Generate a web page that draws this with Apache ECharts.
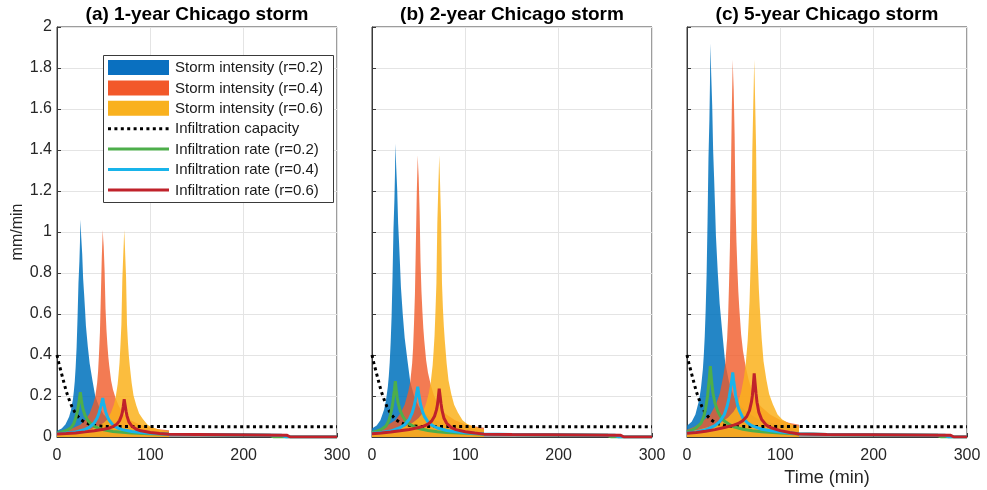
<!DOCTYPE html>
<html><head><meta charset="utf-8">
<script src="https://cdn.jsdelivr.net/npm/echarts@6/dist/echarts.min.js"></script>
<style>html,body{margin:0;padding:0;background:#fff}#c{width:987px;height:490px}</style>
</head><body><div id="c"></div>
<script>
// ---------- text ----------
const panelTitles = ['(a) 1-year Chicago storm', '(b) 2-year Chicago storm', '(c) 5-year Chicago storm'];
const xTickLabels = ['0', '100', '200', '300'];
const yTickLabels = ['0', '0.2', '0.4', '0.6', '0.8', '1', '1.2', '1.4', '1.6', '1.8', '2'];
const legendNames = ['Storm intensity (r=0.2)', 'Storm intensity (r=0.4)', 'Storm intensity (r=0.6)',
  'Infiltration capacity', 'Infiltration rate (r=0.2)', 'Infiltration rate (r=0.4)', 'Infiltration rate (r=0.6)'];

// ---------- storm intensity (mm/min) ----------
const blueT = [0,5,9,13,15,17,18,19,20,21,22,23,24,24.6,25,26,27,28,29,30,31,33,35,38,41,45,50,55,65,75,85,100,120];
const blueA = [0.030,0.041,0.061,0.099,0.132,0.182,0.221,0.270,0.342,0.436,0.580,0.751,0.856,0.949,1.06,0.972,0.894,0.773,0.701,0.624,0.541,0.442,0.359,0.276,0.199,0.149,0.110,0.088,0.066,0.050,0.041,0.033,0.026];
const blueB = [0.041,0.056,0.082,0.134,0.179,0.246,0.298,0.365,0.462,0.589,0.782,1.013,1.155,1.281,1.43,1.311,1.207,1.043,0.946,0.842,0.730,0.596,0.484,0.373,0.268,0.201,0.149,0.119,0.089,0.067,0.056,0.045,0.036];
const blueC = [0.055,0.075,0.11,0.18,0.24,0.33,0.40,0.49,0.62,0.79,1.05,1.36,1.55,1.72,1.92,1.76,1.62,1.40,1.27,1.13,0.98,0.80,0.65,0.50,0.36,0.27,0.20,0.16,0.12,0.09,0.075,0.06,0.048];

const orangeT = [0,8,16,25,31,35,39,41,43,44,45,46,47,48,48.5,49,49.5,50,51,52,53,54,55,56,58,60,63,66,70,74,79,89,99,109,120];
const orangeA = [0.019,0.027,0.041,0.06,0.088,0.115,0.165,0.198,0.264,0.318,0.406,0.511,0.692,0.878,0.944,1.01,0.966,0.933,0.813,0.626,0.522,0.450,0.390,0.346,0.275,0.231,0.187,0.154,0.121,0.099,0.082,0.06,0.047,0.038,0.033];
const orangeB = [0.026,0.037,0.056,0.082,0.12,0.157,0.224,0.269,0.359,0.433,0.553,0.695,0.941,1.195,1.285,1.375,1.315,1.270,1.106,0.852,0.710,0.613,0.530,0.471,0.374,0.314,0.254,0.209,0.164,0.134,0.112,0.082,0.063,0.052,0.045];
const orangeC = [0.035,0.05,0.075,0.11,0.16,0.21,0.30,0.36,0.48,0.58,0.74,0.93,1.26,1.6,1.72,1.84,1.76,1.70,1.48,1.14,0.95,0.82,0.71,0.63,0.50,0.42,0.34,0.28,0.22,0.18,0.15,0.11,0.085,0.07,0.06];

const yellowT = [0,12,24,36,44,50,54,58,61,63,65,66,67,68,69,70,71,71.5,72,72.5,73,74,75,76,77,78,80,82,85,88,92,97,102,108,114,120];
const yellowA = [0.014,0.019,0.027,0.038,0.052,0.069,0.085,0.121,0.159,0.198,0.258,0.307,0.362,0.450,0.549,0.769,0.889,0.944,1.01,0.961,0.900,0.780,0.549,0.461,0.395,0.346,0.264,0.203,0.154,0.115,0.088,0.06,0.047,0.038,0.032,0.027];
const yellowB = [0.019,0.026,0.037,0.052,0.071,0.093,0.116,0.164,0.217,0.269,0.351,0.418,0.493,0.613,0.747,1.046,1.210,1.285,1.375,1.307,1.225,1.061,0.747,0.627,0.538,0.471,0.359,0.276,0.209,0.157,0.12,0.082,0.063,0.052,0.043,0.037];
const yellowC = [0.025,0.035,0.05,0.07,0.095,0.125,0.155,0.22,0.29,0.36,0.47,0.56,0.66,0.82,1.0,1.40,1.62,1.72,1.84,1.75,1.64,1.42,1.0,0.84,0.72,0.63,0.48,0.37,0.28,0.21,0.16,0.11,0.085,0.07,0.058,0.05];

// ---------- infiltration capacity (same soil in all panels) ----------
const capT = [0,2,4,6,8,10,12,14,16,18,20,23,26,30,35,40,45,50,60,300];
const capV = [0.4,0.36,0.325,0.29,0.255,0.222,0.195,0.17,0.148,0.13,0.114,0.097,0.083,0.071,0.062,0.057,0.054,0.052,0.051,0.05];

// ---------- infiltration rates ----------
const greenT = [0,5,10,15,18,20,22,23,24,25,26,27,28,30,33,36,40,45,50,60,70,80,100,120];
const greenA = [0.019,0.024,0.032,0.045,0.066,0.091,0.128,0.156,0.184,0.218,0.184,0.156,0.134,0.106,0.081,0.066,0.052,0.042,0.035,0.027,0.023,0.02,0.016,0.013];
const greenB = [0.022,0.028,0.037,0.054,0.080,0.111,0.158,0.193,0.228,0.272,0.228,0.193,0.166,0.131,0.10,0.080,0.063,0.051,0.041,0.032,0.026,0.022,0.018,0.014];
const greenC = [0.025,0.033,0.045,0.067,0.10,0.14,0.2,0.245,0.29,0.346,0.29,0.245,0.21,0.165,0.125,0.10,0.078,0.062,0.05,0.038,0.031,0.026,0.02,0.015];

const cyanT = [0,10,20,30,35,40,43,45,47,48,49,50,51,52,54,56,60,65,70,80,90,100,120];
const cyanA = [0.016,0.019,0.025,0.037,0.048,0.069,0.093,0.116,0.149,0.169,0.19,0.166,0.146,0.125,0.099,0.081,0.058,0.044,0.036,0.027,0.022,0.018,0.014];
const cyanB = [0.018,0.022,0.029,0.045,0.06,0.087,0.118,0.149,0.191,0.218,0.245,0.214,0.187,0.16,0.126,0.102,0.073,0.055,0.044,0.032,0.025,0.021,0.015];
const cyanC = [0.02,0.025,0.035,0.055,0.075,0.11,0.15,0.19,0.245,0.28,0.315,0.275,0.24,0.205,0.16,0.13,0.092,0.068,0.054,0.038,0.03,0.024,0.016];

const redT = [0,10,20,30,40,50,55,60,64,67,69,70,71,72,73,74,75,77,80,85,90,100,110,120];
const redA = [0.015,0.017,0.02,0.025,0.031,0.038,0.042,0.051,0.062,0.08,0.103,0.12,0.149,0.184,0.155,0.126,0.103,0.074,0.054,0.038,0.03,0.022,0.017,0.013];
const redB = [0.016,0.019,0.024,0.03,0.037,0.046,0.052,0.063,0.078,0.101,0.131,0.153,0.191,0.236,0.199,0.161,0.131,0.093,0.067,0.046,0.036,0.026,0.019,0.014];
const redC = [0.018,0.022,0.028,0.036,0.046,0.058,0.066,0.08,0.1,0.13,0.17,0.2,0.25,0.31,0.26,0.21,0.17,0.12,0.085,0.058,0.045,0.031,0.022,0.015];

// after the storm ends (t > 120)
const greenTailA = [[150,0.012],[228,0.009],[232,0],[300,0]];
const cyanTailA  = [[150,0.012],[240,0.009],[246,0],[300,0]];
const redTailA   = [[150,0.012],[246,0.009],[250,0],[300,0]];
const greenTailB = [[150,0.012],[252,0.009],[256,0],[300,0]];
const cyanTailB  = [[150,0.012],[260,0.009],[264,0],[300,0]];
const redTailB   = [[150,0.012],[266,0.009],[270,0],[300,0]];
const greenTailC = [[150,0.012],[268,0.009],[272,0],[300,0]];
const cyanTailC  = [[150,0.012],[276,0.009],[280,0],[300,0]];
const redTailC   = [[150,0.012],[282,0.009],[286,0],[300,0]];

// ---------- build ----------
const FONT = '"Liberation Sans", Arial, Helvetica, sans-serif';
const pairs = (T, V) => T.map((t, i) => [t, V[i]]);
const panels = [
  {storm: [blueA, orangeA, yellowA], rate: [greenA, cyanA, redA], tail: [greenTailA, cyanTailA, redTailA]},
  {storm: [blueB, orangeB, yellowB], rate: [greenB, cyanB, redB], tail: [greenTailB, cyanTailB, redTailB]},
  {storm: [blueC, orangeC, yellowC], rate: [greenC, cyanC, redC], tail: [greenTailC, cyanTailC, redTailC]}
];
const stormT = [blueT, orangeT, yellowT];
const rateT = [greenT, cyanT, redT];
const stormFill = ['rgba(0,114,189,0.86)', 'rgba(240,90,40,0.80)', 'rgba(250,178,28,0.85)'];
const legendPatch = ['#0a70c0', '#f2582a', '#f9b11e'];
const rateColor = ['#4dae4a', '#18b4ea', '#c0222b'];
const lefts = [57, 372, 687];
const W = 280, TOP = 27, H = 410;
const AX = '#3a3a3a';

const series = [];
panels.forEach((p, i) => {
  p.storm.forEach((v, k) => series.push({
    type: 'line', xAxisIndex: i, yAxisIndex: i, data: pairs(stormT[k], v),
    symbol: 'none', lineStyle: {width: 0, opacity: 0}, areaStyle: {color: stormFill[k], opacity: 1},
    z: 2 + k * 0.01, silent: true
  }));
  series.push({
    type: 'line', xAxisIndex: i, yAxisIndex: i, data: pairs(capT, capV),
    symbol: 'none', lineStyle: {color: '#000', width: 3, type: [3, 3.4], cap: 'butt'}, z: 3, silent: true
  });
  p.rate.forEach((v, k) => series.push({
    type: 'line', xAxisIndex: i, yAxisIndex: i, data: pairs(rateT[k], v).concat(p.tail[k]),
    symbol: 'none', lineStyle: {color: rateColor[k], width: 3}, z: 4 + k * 0.01, silent: true
  }));
});

const graphic = [];
lefts.forEach((l, i) => graphic.push({
  type: 'text', x: l + W / 2, y: 15, z: 100,
  style: {text: panelTitles[i], fill: '#000', font: 'bold 19px ' + FONT, align: 'center', verticalAlign: 'middle'}
}));
// legend box
graphic.push({type: 'rect', z: 100, shape: {x: 103.5, y: 55.5, width: 230, height: 147},
  style: {fill: '#fff', stroke: AX, lineWidth: 1}});
legendNames.forEach((name, i) => {
  const y = 67.5 + i * 20.4;
  if (i < 3) {
    graphic.push({type: 'rect', z: 101, shape: {x: 108, y: y - 7.5, width: 61, height: 15}, style: {fill: legendPatch[i]}});
  } else if (i === 3) {
    graphic.push({type: 'line', z: 101, shape: {x1: 108, y1: y, x2: 169, y2: y},
      style: {stroke: '#000', lineWidth: 3, lineDash: [3, 3.4]}});
  } else {
    graphic.push({type: 'line', z: 101, shape: {x1: 108, y1: y, x2: 169, y2: y},
      style: {stroke: rateColor[i - 4], lineWidth: 3}});
  }
  graphic.push({type: 'text', z: 101, x: 175, y: y + 0.5,
    style: {text: name, fill: '#1a1a1a', font: '15px ' + FONT, align: 'left', verticalAlign: 'middle'}});
});

const option = {
  animation: false,
  backgroundColor: '#fff',
  textStyle: {fontFamily: FONT},
  grid: lefts.map(l => ({left: l, top: TOP, width: W, height: H, show: true, borderColor: AX, borderWidth: 1,
    backgroundColor: 'transparent', containLabel: false, outerBoundsMode: 'none'})),
  xAxis: lefts.map((l, i) => ({
    type: 'value', gridIndex: i, min: 0, max: 300, interval: 100,
    axisLine: {show: true, onZero: false, lineStyle: {color: AX, width: 1}},
    axisTick: {show: true, inside: true, length: 4, lineStyle: {color: AX}},
    axisLabel: {show: true, fontSize: 16, color: '#262626', margin: 11, fontFamily: FONT,
      formatter: v => xTickLabels[Math.round(v / 100)]},
    splitLine: {show: true, lineStyle: {color: '#e4e4e4', width: 1}},
    name: i === 2 ? 'Time (min)' : '', nameLocation: 'middle', nameGap: 31,
    nameTextStyle: {fontSize: 18, color: '#262626', fontFamily: FONT}
  })),
  yAxis: lefts.map((l, i) => ({
    type: 'value', gridIndex: i, min: 0, max: 2, interval: 0.2,
    axisLine: {show: true, onZero: false, lineStyle: {color: AX, width: 1}},
    axisTick: {show: true, inside: true, length: 4, lineStyle: {color: AX}},
    axisLabel: {show: i === 0, fontSize: 16, color: '#262626', margin: 5, fontFamily: FONT,
      formatter: v => yTickLabels[Math.round(v / 0.2)]},
    splitLine: {show: true, lineStyle: {color: '#e4e4e4', width: 1}},
    name: i === 0 ? 'mm/min' : '', nameLocation: 'middle', nameGap: 30, nameRotate: 90,
    nameTextStyle: {fontSize: 16, color: '#262626', fontFamily: FONT}
  })),
  series: series,
  graphic: graphic
};
const chart = echarts.init(document.getElementById('c'), null, {renderer: 'canvas'});
chart.setOption(option);
</script>
</body></html>
